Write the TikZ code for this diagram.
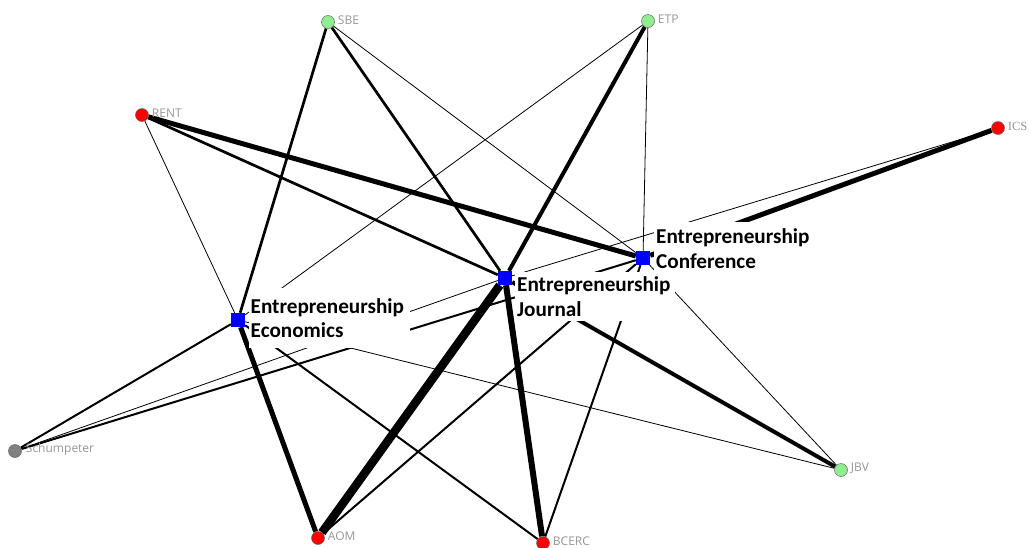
\documentclass[tikz,border=0pt]{standalone}
\usepackage{fontspec}
\setmainfont{Carlito}
\newfontfamily\tagfont{Open Sans}
\newfontfamily\serftagfont{Liberation Serif}
\usepackage{tikz}
\usetikzlibrary{positioning,backgrounds}

\definecolor{netred}{RGB}{255,0,0}
\definecolor{netgreen}{RGB}{144,238,144}
\definecolor{netgrey}{RGB}{128,128,128}
\definecolor{netblue}{RGB}{0,0,255}
\definecolor{taggrey}{RGB}{150,150,150}

\tikzset{
	actor/.style={shape=circle,draw=black!60,line width=0.5pt,minimum size=13pt,inner sep=0pt},
	venue/.style={shape=rectangle,fill=netblue,minimum size=14pt,inner sep=0pt},
	tag/.style={text=taggrey,font=\tagfont\fontsize{12}{14}\selectfont,inner sep=0pt,yshift=2pt},
	venuetag/.style={fill=white,align=left,anchor=north west,inner ysep=0pt,font=\bfseries\fontsize{21.2}{24.5}\selectfont},
	e1/.style={line width=0.8pt},
	e2/.style={line width=2pt},
	e3/.style={line width=2.7pt},
	e4/.style={line width=4pt},
	e5/.style={line width=5pt},
	e6/.style={line width=6pt},
	e7/.style={line width=8.5pt}
}

\begin{document}
\begin{tikzpicture}[x=1pt,y=-1pt]
		\useasboundingbox (0,0) rectangle (1029,547);
		\begin{scope}
			\node(SBE) [actor,fill=netgreen] at (328,22) {};
			\node(ETP) [actor,fill=netgreen] at (648,21) {};
			\node(RENT) [actor,fill=netred] at (142,115) {};
			\node(ICSB) [actor,fill=netred] at (998,128) {};
			\node(Schumpeter) [actor,fill=netgrey] at (15,451) {};
			\node(JBV) [actor,fill=netgreen] at (841,470) {};
			\node(AOM) [actor,fill=netred] at (318,538) {};
			\node(BCERC) [actor,fill=netred] at (543,543) {};
			\node(SBEtag) [tag,right=3pt of SBE] {SBE};
			\node(ETPtag) [tag,right=3pt of ETP] {ETP};
			\node(RENTtag) [tag,right=3pt of RENT] {RENT};
			\node(ICSBtag) [tag,right=3pt of ICSB,font=\serftagfont\fontsize{12.5}{14}\selectfont] {ICS};
			\node(Schumpetertag) [tag,right=4pt of Schumpeter] {Schumpeter};
			\node(JBVtag) [tag,right=3pt of JBV] {JBV};
			\node(AOMtag) [tag,right=3pt of AOM] {AOM};
			\node(BCERCtag) [tag,right=3pt of BCERC] {BCERC};
			\node(EE) [venue] at (238,320) {};
			\node(EJ) [venue] at (505,278) {};
			\node(EC) [venue] at (643,258) {};
			\node(EEtag) [venuetag,inner xsep=2pt,text width=157.5pt,minimum height=60pt] at (248.5,288) {Entrepreneurship\\Economics};
			\node(EJtag) [venuetag,inner xsep=2.5pt,text width=155.5pt,minimum height=49pt] at (514.5,272) {Entrepreneurship\\Journal};
			\node(ECtag) [venuetag,inner xsep=2pt,text width=154pt,minimum height=53pt] at (654,222) {Entrepreneurship\\Conference};
		\end{scope}
		\begin{pgfonlayer}{background}
			\path
				(RENT) edge [e5] (EC)
				(RENT) edge [e3] (EJ)
				(RENT) edge [e1] (EE)
				(SBE) edge [e3] (EE)
				(SBE) edge [e3] (EJ)
				(SBE) edge [e1] (EC)
				(ETP) edge [e1] (EE)
				(ETP) edge [e4] (EJ)
				(ETP) edge [e1] (EC)
				(ICSB) edge [e5] (EC)
				(ICSB) edge [e1] (EJ)
				(Schumpeter) edge [e2] (EE)
				(Schumpeter) edge [e1] (EJ)
				(Schumpeter) edge [e2] (EC)
				(EE) edge [e5] (AOM)
				(EE) edge [e2] (BCERC)
				(EE) edge [e1] (JBV)
				(EJ) edge [e7] (AOM)
				(EJ) edge [e6] (BCERC)
				(EJ) edge [e4] (JBV)
				(AOM) edge [e2] (EC)
				(BCERC) edge [e2] (EC)
				(EC) edge [e1] (JBV);
		\end{pgfonlayer}
	\end{tikzpicture}
\end{document}
